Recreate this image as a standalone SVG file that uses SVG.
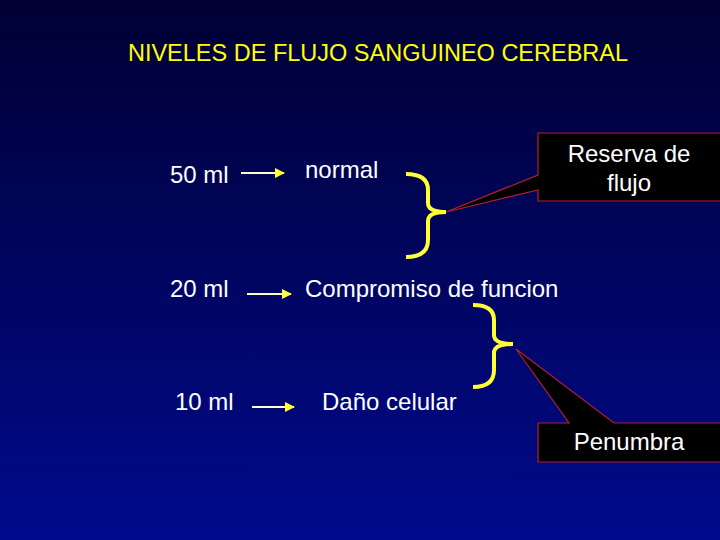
<svg xmlns="http://www.w3.org/2000/svg" width="720" height="540" viewBox="0 0 720 540">
<defs>
<linearGradient id="bg" x1="0" y1="0" x2="0" y2="1">
<stop offset="0" stop-color="#000033"/><stop offset="1" stop-color="#000a8c"/>
</linearGradient>
<marker id="ah" viewBox="0 0 10 10" refX="9" refY="5" markerWidth="5" markerHeight="5" orient="auto"><path d="M0,0L10,5L0,10z" fill="#ffff33"/></marker>
<style>
text{font-family:"Liberation Sans",Arial,sans-serif;fill:#fff;font-size:24px}
.t{fill:#ffff00;font-size:23.5px}
.ar{stroke:#ffffcc;stroke-width:2;fill:none;marker-end:url(#ah)}
.br{stroke:#ffff33;stroke-width:4;fill:none}
.co{fill:#000;stroke:#b02030;stroke-width:1.2}
</style>
</defs>
<rect width="720" height="540" fill="url(#bg)"/>
<text class="t" x="378" y="61" text-anchor="middle">NIVELES DE FLUJO SANGUINEO CEREBRAL</text>
<g id="n50"><text x="170" y="183">50 ml</text></g>
<g id="nnormal"><text x="305" y="178">normal</text></g>
<g id="n20"><text x="170" y="297">20 ml</text></g>
<g id="ncomp"><text x="305" y="297">Compromiso de funcion</text></g>
<g id="n10"><text x="175" y="410">10 ml</text></g>
<g id="ndano"><text x="322" y="410">Daño celular</text></g>
<g id="connectors">
<line class="ar" x1="241" y1="173" x2="284" y2="173"/>
<line class="ar" x1="247" y1="294" x2="291" y2="294"/>
<line class="ar" x1="252" y1="407" x2="294" y2="407"/>
</g>
<g id="brace1"><path class="br" d="M406,174 Q428,174 428,190 L428,203 Q428,212 446,212 Q428,212 428,221 L428,240 Q428,257 406,257"/></g>
<g id="brace2"><path class="br" d="M473,305 Q494,305 494,320 L494,335 Q494,344 513,344 Q494,344 494,353 L494,370 Q494,387 473,387"/></g>
<g id="reserva">
<path class="co" d="M538,133 L722,133 L722,201 L538,201 L538,190 L446,212 L538,175 Z"/>
<text x="629" y="162" text-anchor="middle">Reserva de</text>
<text x="629" y="191" text-anchor="middle">flujo</text>
</g>
<g id="penumbra">
<path class="co" d="M538,423 L569,423 L516,349 L614,423 L722,423 L722,462 L538,462 Z"/>
<text x="629" y="450" text-anchor="middle">Penumbra</text>
</g>
</svg>
